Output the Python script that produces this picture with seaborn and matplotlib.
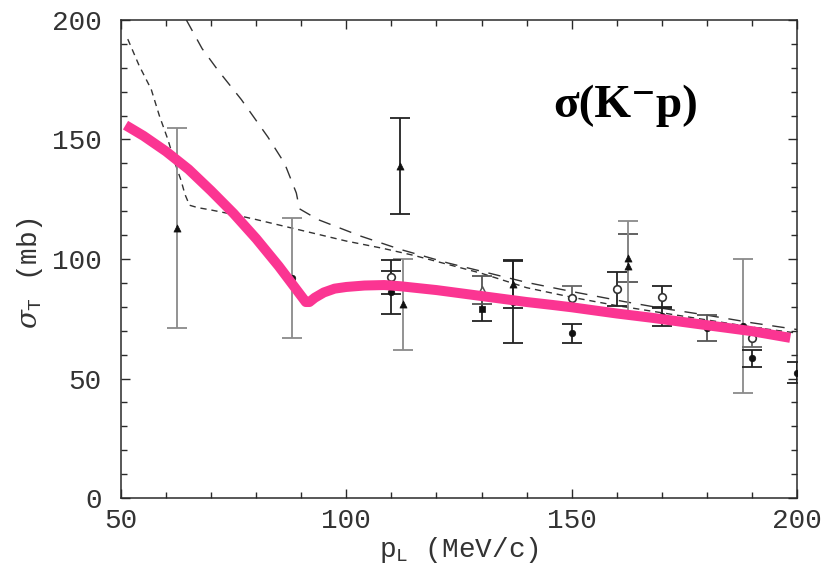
import matplotlib
matplotlib.use("Agg")
import matplotlib.pyplot as plt
import seaborn as sns
from matplotlib.ticker import MultipleLocator

# ---- model curves -------------------------------------------------------
# thick model curve (pink)
fit_p = [51, 55, 60, 65, 70, 75, 80, 85, 88, 90, 91, 91.8,
         93, 95, 97.4, 100, 104, 108.4, 112, 120, 130, 140, 145.6, 150,
         160, 167.8, 180, 190, 198.5]
fit_s = [156, 151.5, 145, 137.5, 128.5, 119, 108.5, 97, 89.5, 84.5, 82, 82,
         83.8, 86, 87.6, 88.3, 88.9, 89.1, 88.6, 87, 84.5, 82, 80.8,
         79.8, 77.2, 75.4, 72.3, 69.8, 67]

# long-dashed curve
ld_p = [64.5, 68, 71.5, 76.7, 82.6, 86.3, 88.9, 89.6, 93.7, 103.3, 112,
        122.6, 140, 150, 161.6, 170, 180, 190, 200]
ld_s = [200, 188, 179, 166.7, 151, 140, 127.6, 121, 116.5, 109.5, 104,
        98.3, 90.2, 86.4, 82.2, 79.4, 76.5, 73.3, 70.5]

# short-dashed curve
sd_p = [51.5, 54, 56.7, 58.5, 60.4, 62, 63.3, 64.2, 65.2, 67, 70, 75, 80,
        90, 100, 108, 115, 120, 130, 140, 150, 160, 170, 180, 190, 200]
sd_s = [192, 181, 171, 160, 150, 140, 133, 127, 122.5, 121.5, 120.5, 118.6,
        116.5, 112, 107.5, 104.5, 101.5, 99, 94, 88, 84, 80.5, 77.5, 74.5,
        71.5, 69]

# ---- measurements -------------------------------------------------------
# filled circles
fc_p = [88, 110, 137, 150, 170, 180, 188, 190, 200]
fc_s = [92, 86, 82, 69, 76, 71, 72, 58.5, 52.5]
fc_e = [25, 9, 17, 4, 4, 5.5, 28, 3.5, 4.5]
fc_c = ["#8a8a8a", "#222222", "#222222", "#222222", "#222222", "#555555",
        "#8a8a8a", "#222222", "#222222"]

# filled triangles
tr_p = [62.5, 112, 112.5, 137, 162.5, 162.5]
tr_s = [113, 139, 81, 89.6, 100.4, 97]
tr_e = [42, 20, 19, 10, 10, 19]
tr_c = ["#8a8a8a", "#222222", "#8a8a8a", "#222222", "#555555", "#8a8a8a"]

# open circles
oc_p = [110, 150, 160, 170, 190]
oc_s = [92.5, 83.5, 87.5, 84, 67]
oc_e = [7, 5, 7, 4.5, 4]
oc_c = ["#222222", "#666666", "#222222", "#222222", "#666666"]

# filled squares
sq_p = [130]
sq_s = [79]
sq_e = [5]
sq_c = ["#222222"]

# open triangles
ot_p = [130]
ot_s = [87]
ot_e = [6]
ot_c = ["#555555"]

x_ticks = [50, 100, 150, 200]
y_ticks = [0, 50, 100, 150, 200]
title_text = "σ(K⁻p)"
x_label = r"$\mathregular{p_L}$ (MeV/c)"
y_label = r"$\sigma_{\mathregular{T}}$ (mb)"

# ---- style --------------------------------------------------------------
sns.set_theme(style="ticks")
plt.rcParams["font.family"] = ["Liberation Mono", "DejaVu Sans Mono"]
plt.rcParams["mathtext.fontset"] = "dejavuserif"
plt.rcParams["axes.edgecolor"] = "#2a2a2a"
plt.rcParams["axes.linewidth"] = 1.1

fig = plt.figure(figsize=(8.21, 5.76), dpi=100)
ax = fig.add_axes([0.1474, 0.1354, 0.8234, 0.8299])
ax.set_facecolor("white")

# model curves
sns.lineplot(x=sd_p, y=sd_s, ax=ax, color="#333333", lw=1.0,
             linestyle=(0, (4.5, 3.5)), sort=False, estimator=None, zorder=2)
sns.lineplot(x=ld_p, y=ld_s, ax=ax, color="#333333", lw=1.0,
             linestyle=(0, (9, 7)), sort=False, estimator=None, zorder=2)

# error bars, one per point so each keeps its own shade
groups = [
    (fc_p, fc_s, fc_e, fc_c),
    (tr_p, tr_s, tr_e, tr_c),
    (oc_p, oc_s, oc_e, oc_c),
    (sq_p, sq_s, sq_e, sq_c),
    (ot_p, ot_s, ot_e, ot_c),
]
for ps, ss, es, cs in groups:
    for p, s, e, c in zip(ps, ss, es, cs):
        ax.errorbar([p], [s], yerr=[e], fmt="none", ecolor=c,
                    elinewidth=1.3, capsize=7.5, capthick=1.3, zorder=3)

# markers
sns.scatterplot(x=fc_p, y=fc_s, ax=ax, marker="o", s=22, color="#111111",
                edgecolor="#111111", linewidth=0.5, zorder=4)
sns.scatterplot(x=tr_p, y=tr_s, ax=ax, marker="^", s=26, color="#111111",
                edgecolor="#111111", linewidth=0.5, zorder=4)
sns.scatterplot(x=oc_p, y=oc_s, ax=ax, marker="o", s=30, color="white",
                edgecolor="#333333", linewidth=1.2, zorder=4)
sns.scatterplot(x=sq_p, y=sq_s, ax=ax, marker="s", s=22, color="#111111",
                edgecolor="#111111", linewidth=0.5, zorder=4)
sns.scatterplot(x=ot_p, y=ot_s, ax=ax, marker="^", s=30, color="white",
                edgecolor="#555555", linewidth=1.1, zorder=4)

# thick model curve on top
sns.lineplot(x=fit_p, y=fit_s, ax=ax, color="#fb3592", lw=7.2,
             sort=False, estimator=None, zorder=6,
             solid_capstyle="butt", solid_joinstyle="round")

# axes
ax.set_xlim(50, 200)
ax.set_ylim(0, 200)
ax.set_xticks(x_ticks)
ax.set_yticks(y_ticks)
ax.xaxis.set_minor_locator(MultipleLocator(10))
ax.yaxis.set_minor_locator(MultipleLocator(10))
ax.tick_params(which="both", direction="in", top=True, right=True,
               color="#2a2a2a", width=1.0)
ax.tick_params(which="major", length=6.5)
ax.tick_params(which="minor", length=4)
ax.tick_params(axis="x", which="major", pad=7, labelsize=20,
               labelcolor="#333333")
ax.tick_params(axis="y", which="major", pad=14, labelsize=20,
               labelcolor="#333333")
for sp in ax.spines.values():
    sp.set_visible(True)

ax.set_xlabel(x_label, fontsize=20, color="#333333", labelpad=1)
ax.set_ylabel(y_label, fontsize=20, color="#333333")
ax.yaxis.set_label_coords(-0.112, 0.47)

ax.text(162, 164, title_text, ha="center", va="center", fontsize=34,
        fontweight="bold", family=["Liberation Serif", "DejaVu Serif"],
        color="black", zorder=7)

fig.savefig("out.png", dpi=100, facecolor="white")
